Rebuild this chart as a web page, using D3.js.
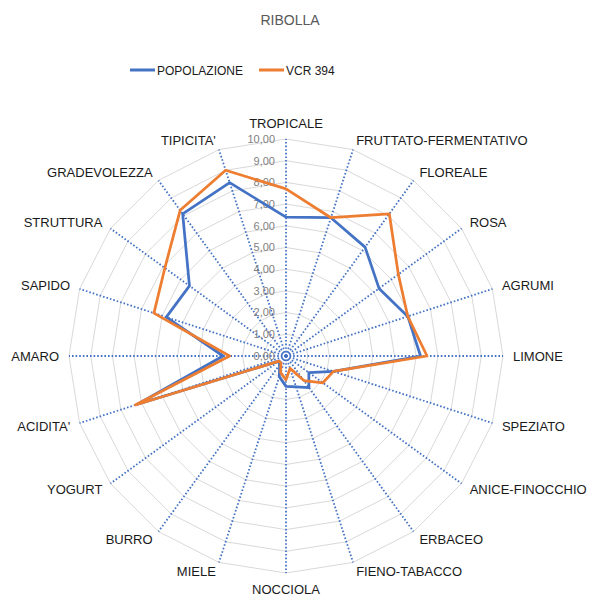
<!DOCTYPE html>
<html>
<head>
<meta charset="utf-8">
<script src="https://cdn.jsdelivr.net/npm/d3@7"></script>
<style>
  body { margin: 0; background: #fff; }
  text { font-family: "Liberation Sans", Arial, sans-serif; }
</style>
</head>
<body>
<div id="chart"></div>
<script>
const width = 589;
const height = 597;

// dati
const categories = ["TROPICALE", "FRUTTATO-FERMENTATIVO", "FLOREALE", "ROSA", "AGRUMI", "LIMONE",
    "SPEZIATO", "ANICE-FINOCCHIO", "ERBACEO", "FIENO-TABACCO", "NOCCIOLA", "MIELE", "BURRO",
    "YOGURT", "ACIDITA'", "AMARO", "SAPIDO", "STRUTTURA", "GRADEVOLEZZA", "TIPICITA'"];
const popolazione = [6.4, 6.7, 6.2, 5.3, 5.9, 6.2, 2.3, 1.3, 1.8, 1.5, 1.4, 1.0, 0.5, 0.4, 7.2, 2.9, 5.8, 5.5, 8.1, 8.4];
const vcr394 = [7.7, 6.7, 8.1, 6.4, 5.9, 6.5, 2.3, 2.1, 1.4, 0.6, 1.1, 0.8, 0.4, 0.4, 7.3, 2.6, 6.4, 6.9, 8.3, 9.0];
const ticks = [0, 1, 2, 3, 4, 5, 6, 7, 8, 9, 10];

const series = [
    { name: "POPOLAZIONE", values: popolazione, color: "#4472C4" },
    { name: "VCR 394", values: vcr394, color: "#ED7D31" }
];

const cx = 286, cy = 356, R = 217;

const svg = d3.select("#chart")
    .append("svg")
    .attr("width", width)
    .attr("height", height);

const r = d3.scaleLinear().domain([0, 10]).range([0, R]);
const angle = d3.scalePoint().domain(categories.concat(["_end"])).range([0, 2 * Math.PI]);

const it = d3.formatLocale({ decimal: ",", thousands: ".", grouping: [3], currency: ["", "€"] });
const fmt = it.format(".2f");

// titolo
svg.append("text")
    .attr("x", 290).attr("y", 25)
    .attr("text-anchor", "middle")
    .attr("font-size", 14)
    .attr("fill", "#595959")
    .text("RIBOLLA");

// legenda
const legend = svg.append("g").attr("transform", "translate(130,70)");
const lx = [0, 129];
series.forEach((s, i) => {
    const g = legend.append("g").attr("transform", `translate(${lx[i]},0)`);
    g.append("line").attr("x1", 0).attr("x2", 25).attr("y1", 0).attr("y2", 0)
        .attr("stroke", s.color).attr("stroke-width", 3);
    g.append("text").attr("x", 27).attr("y", 4.5)
        .attr("font-size", 12).attr("fill", "#1a1a1a")
        .text(s.name);
});

const plot = svg.append("g").attr("transform", `translate(${cx},${cy})`);

// griglia poligonale
const gridLine = d3.lineRadial()
    .angle(d => angle(d))
    .curve(d3.curveLinearClosed);

ticks.slice(1).forEach(t => {
    plot.append("path")
        .attr("d", gridLine.radius(r(t))(categories))
        .attr("fill", "none")
        .attr("stroke", "#d9d9d9")
        .attr("stroke-width", 1);
});

// assi radiali tratteggiati
plot.selectAll(".axis")
    .data(categories)
    .enter()
    .append("line")
    .attr("class", "axis")
    .attr("x1", 0).attr("y1", 0)
    .attr("x2", d => r(10) * Math.sin(angle(d)))
    .attr("y2", d => -r(10) * Math.cos(angle(d)))
    .attr("stroke", "#4472C4")
    .attr("stroke-width", 1.8)
    .attr("stroke-dasharray", "1.6,2");

// etichette della scala
plot.selectAll(".tick")
    .data(ticks)
    .enter()
    .append("text")
    .attr("class", "tick")
    .attr("x", -11)
    .attr("y", d => -r(d))
    .attr("dy", "0.35em")
    .attr("text-anchor", "end")
    .attr("font-size", 11)
    .attr("fill", "#808080")
    .text(d => fmt(d));

// etichette categorie
plot.selectAll(".cat")
    .data(categories)
    .enter()
    .append("text")
    .attr("class", "cat")
    .each(function (d) {
        const a = angle(d);
        const sx = Math.sin(a), sy = -Math.cos(a);
        let x = (R + 10) * sx, y = (R + 10) * sy;
        let anchor = "middle";
        if (sx > 0.01) anchor = "start";
        else if (sx < -0.01) anchor = "end";
        if (Math.abs(sx) < 0.01) y += sy < 0 ? -6 : 6;
        d3.select(this)
            .attr("x", x).attr("y", y)
            .attr("dy", "0.35em")
            .attr("text-anchor", anchor);
    })
    .attr("font-size", 13)
    .attr("fill", "#1a1a1a")
    .text(d => d);

// serie
const seriesLine = d3.lineRadial()
    .angle((d, i) => angle(categories[i]))
    .radius(d => r(d))
    .curve(d3.curveLinearClosed);

plot.selectAll(".serie")
    .data(series)
    .enter()
    .append("path")
    .attr("class", "serie")
    .attr("d", d => seriesLine(d.values))
    .attr("fill", "none")
    .attr("stroke", d => d.color)
    .attr("stroke-width", 2.75)
    .attr("stroke-linejoin", "round");
</script>
</body>
</html>
